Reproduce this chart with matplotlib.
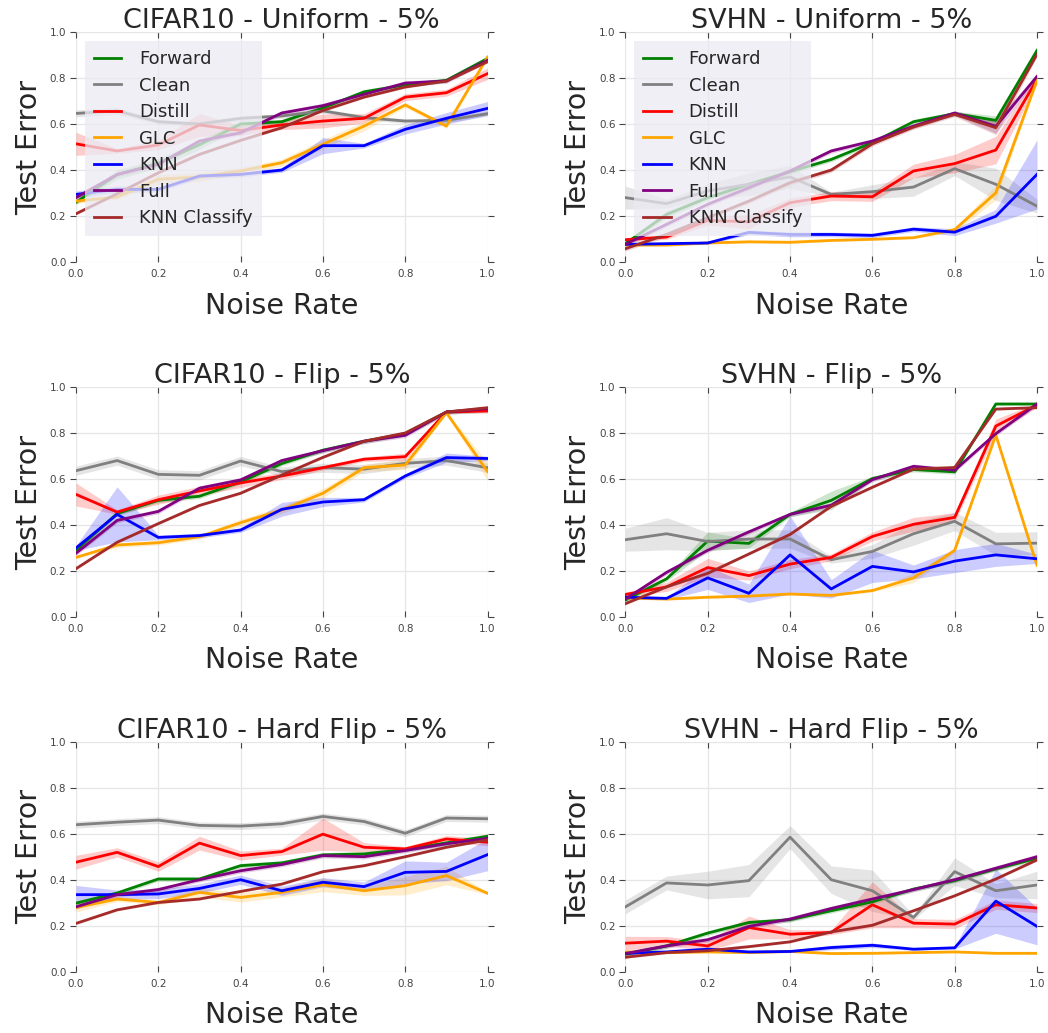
import numpy as np
import matplotlib
matplotlib.use('Agg')
import matplotlib.pyplot as plt

noise = [0.0, 0.1, 0.2, 0.3, 0.4, 0.5, 0.6, 0.7, 0.8, 0.9, 1.0]
methods = ['Forward', 'Clean', 'Distill', 'GLC', 'KNN', 'Full', 'KNN Classify']
colors = ['green', 'gray', 'red', 'orange', 'blue', 'purple', 'brown']
titles = ['CIFAR10 - Uniform - 5%', 'SVHN - Uniform - 5%',
          'CIFAR10 - Flip - 5%', 'SVHN - Flip - 5%',
          'CIFAR10 - Hard Flip - 5%', 'SVHN - Hard Flip - 5%']

# mean test error per method
cifar_uniform = {
    'Forward':      [0.26, 0.38, 0.43, 0.51, 0.60, 0.61, 0.67, 0.74, 0.77, 0.79, 0.885],
    'Clean':        [0.646, 0.657, 0.61, 0.60, 0.625, 0.635, 0.657, 0.628, 0.613, 0.616, 0.645],
    'Distill':      [0.514, 0.483, 0.509, 0.596, 0.572, 0.596, 0.613, 0.625, 0.717, 0.736, 0.819],
    'GLC':          [0.265, 0.283, 0.36, 0.37, 0.396, 0.432, 0.512, 0.591, 0.683, 0.591, 0.891],
    'KNN':          [0.294, 0.316, 0.316, 0.374, 0.381, 0.40, 0.506, 0.506, 0.577, 0.625, 0.668],
    'Full':         [0.28, 0.381, 0.425, 0.526, 0.562, 0.648, 0.68, 0.729, 0.778, 0.787, 0.877],
    'KNN Classify': [0.21, 0.297, 0.388, 0.468, 0.529, 0.584, 0.659, 0.717, 0.761, 0.787, 0.871],
}
svhn_uniform = {
    'Forward':      [0.08, 0.207, 0.28, 0.338, 0.393, 0.446, 0.519, 0.61, 0.645, 0.616, 0.92],
    'Clean':        [0.28, 0.254, 0.309, 0.338, 0.37, 0.294, 0.306, 0.326, 0.406, 0.338, 0.243],
    'Distill':      [0.097, 0.109, 0.181, 0.175, 0.258, 0.287, 0.284, 0.396, 0.428, 0.487, 0.794],
    'GLC':          [0.074, 0.074, 0.083, 0.088, 0.086, 0.094, 0.099, 0.106, 0.141, 0.301, 0.79],
    'KNN':          [0.077, 0.08, 0.083, 0.129, 0.12, 0.12, 0.116, 0.143, 0.13, 0.199, 0.381],
    'Full':         [0.077, 0.164, 0.251, 0.323, 0.396, 0.483, 0.526, 0.591, 0.648, 0.59, 0.807],
    'KNN Classify': [0.058, 0.12, 0.193, 0.265, 0.345, 0.40, 0.514, 0.587, 0.642, 0.584, 0.903],
}
cifar_flip = {
    'Forward':      [0.29, 0.45, 0.507, 0.525, 0.587, 0.667, 0.725, 0.764, 0.797, 0.891, 0.90],
    'Clean':        [0.636, 0.68, 0.62, 0.616, 0.678, 0.632, 0.649, 0.643, 0.668, 0.68, 0.649],
    'Distill':      [0.533, 0.456, 0.51, 0.548, 0.583, 0.613, 0.649, 0.686, 0.697, 0.891, 0.896],
    'GLC':          [0.259, 0.313, 0.323, 0.349, 0.41, 0.465, 0.538, 0.649, 0.661, 0.888, 0.632],
    'KNN':          [0.30, 0.446, 0.346, 0.354, 0.378, 0.468, 0.50, 0.51, 0.613, 0.693, 0.689],
    'Full':         [0.277, 0.42, 0.459, 0.56, 0.596, 0.68, 0.723, 0.764, 0.79, 0.891, 0.906],
    'KNN Classify': [0.21, 0.325, 0.406, 0.485, 0.538, 0.617, 0.694, 0.764, 0.80, 0.891, 0.91],
}
svhn_flip = {
    'Forward':      [0.074, 0.166, 0.33, 0.32, 0.446, 0.507, 0.602, 0.641, 0.631, 0.926, 0.926],
    'Clean':        [0.336, 0.362, 0.328, 0.339, 0.339, 0.249, 0.285, 0.362, 0.416, 0.318, 0.321],
    'Distill':      [0.098, 0.131, 0.215, 0.18, 0.23, 0.259, 0.35, 0.403, 0.433, 0.83, 0.922],
    'GLC':          [0.083, 0.078, 0.086, 0.091, 0.10, 0.094, 0.115, 0.17, 0.29, 0.791, 0.225],
    'KNN':          [0.086, 0.081, 0.17, 0.103, 0.27, 0.122, 0.22, 0.196, 0.243, 0.27, 0.253],
    'Full':         [0.078, 0.194, 0.29, 0.37, 0.446, 0.486, 0.597, 0.655, 0.638, 0.797, 0.926],
    'KNN Classify': [0.058, 0.131, 0.19, 0.274, 0.359, 0.481, 0.564, 0.643, 0.65, 0.904, 0.91],
}
cifar_hard = {
    'Forward':      [0.299, 0.343, 0.404, 0.404, 0.462, 0.474, 0.509, 0.513, 0.532, 0.561, 0.59],
    'Clean':        [0.64, 0.651, 0.66, 0.637, 0.634, 0.644, 0.676, 0.654, 0.603, 0.669, 0.666],
    'Distill':      [0.477, 0.52, 0.458, 0.56, 0.506, 0.523, 0.599, 0.542, 0.535, 0.578, 0.564],
    'GLC':          [0.28, 0.317, 0.302, 0.346, 0.324, 0.346, 0.379, 0.353, 0.375, 0.419, 0.342],
    'KNN':          [0.336, 0.336, 0.339, 0.363, 0.401, 0.353, 0.39, 0.371, 0.433, 0.437, 0.51],
    'Full':         [0.283, 0.336, 0.358, 0.401, 0.44, 0.467, 0.506, 0.501, 0.528, 0.557, 0.581],
    'KNN Classify': [0.211, 0.27, 0.302, 0.317, 0.35, 0.382, 0.436, 0.462, 0.501, 0.542, 0.574],
}
svhn_hard = {
    'Forward':      [0.077, 0.113, 0.169, 0.215, 0.227, 0.266, 0.305, 0.36, 0.397, 0.448, 0.494],
    'Clean':        [0.283, 0.387, 0.378, 0.397, 0.586, 0.401, 0.353, 0.237, 0.436, 0.353, 0.378],
    'Distill':      [0.125, 0.134, 0.113, 0.193, 0.164, 0.172, 0.292, 0.212, 0.208, 0.292, 0.278],
    'GLC':          [0.087, 0.084, 0.087, 0.084, 0.089, 0.08, 0.081, 0.084, 0.087, 0.081, 0.081],
    'KNN':          [0.081, 0.087, 0.099, 0.087, 0.089, 0.106, 0.116, 0.099, 0.105, 0.308, 0.198],
    'Full':         [0.08, 0.113, 0.14, 0.198, 0.23, 0.276, 0.317, 0.358, 0.401, 0.451, 0.501],
    'KNN Classify': [0.064, 0.084, 0.092, 0.11, 0.131, 0.174, 0.203, 0.266, 0.331, 0.404, 0.487],
}

# half-width of the shaded band (estimated)
cifar_uniform_sd = {
    'Forward':      [0.01, 0.02, 0.02, 0.02, 0.015, 0.01, 0.01, 0.01, 0.01, 0.01, 0.01],
    'Clean':        [0.015, 0.015, 0.01, 0.01, 0.01, 0.01, 0.01, 0.01, 0.01, 0.01, 0.01],
    'Distill':      [0.05, 0.01, 0.02, 0.05, 0.02, 0.02, 0.03, 0.02, 0.015, 0.015, 0.025],
    'GLC':          [0.01, 0.01, 0.02, 0.02, 0.015, 0.015, 0.02, 0.02, 0.01, 0.01, 0.01],
    'KNN':          [0.015, 0.015, 0.01, 0.01, 0.01, 0.01, 0.035, 0.01, 0.02, 0.025, 0.03],
    'Full':         [0.01, 0.01, 0.01, 0.01, 0.01, 0.01, 0.01, 0.01, 0.01, 0.01, 0.01],
    'KNN Classify': [0.005, 0.005, 0.005, 0.005, 0.005, 0.005, 0.005, 0.005, 0.005, 0.005, 0.005],
}
svhn_uniform_sd = {
    'Forward':      [0.01, 0.015, 0.01, 0.01, 0.01, 0.01, 0.01, 0.01, 0.01, 0.02, 0.01],
    'Clean':        [0.05, 0.02, 0.03, 0.05, 0.05, 0.01, 0.03, 0.04, 0.03, 0.07, 0.03],
    'Distill':      [0.01, 0.01, 0.02, 0.03, 0.02, 0.02, 0.02, 0.03, 0.04, 0.06, 0.02],
    'GLC':          [0.005, 0.005, 0.005, 0.005, 0.005, 0.005, 0.005, 0.005, 0.01, 0.03, 0.01],
    'KNN':          [0.005, 0.005, 0.005, 0.01, 0.01, 0.01, 0.01, 0.01, 0.015, 0.03, 0.15],
    'Full':         [0.01, 0.01, 0.01, 0.01, 0.01, 0.01, 0.01, 0.01, 0.01, 0.03, 0.01],
    'KNN Classify': [0.01, 0.01, 0.01, 0.01, 0.01, 0.01, 0.01, 0.01, 0.01, 0.03, 0.01],
}
cifar_flip_sd = {
    'Forward':      [0.01, 0.01, 0.01, 0.01, 0.01, 0.01, 0.01, 0.01, 0.01, 0.01, 0.01],
    'Clean':        [0.02, 0.02, 0.02, 0.02, 0.02, 0.02, 0.02, 0.02, 0.02, 0.02, 0.02],
    'Distill':      [0.05, 0.01, 0.02, 0.02, 0.02, 0.015, 0.01, 0.01, 0.015, 0.005, 0.01],
    'GLC':          [0.005, 0.01, 0.01, 0.01, 0.015, 0.015, 0.02, 0.015, 0.02, 0.005, 0.04],
    'KNN':          [0.01, 0.12, 0.01, 0.01, 0.01, 0.03, 0.02, 0.01, 0.01, 0.02, 0.01],
    'Full':         [0.01, 0.01, 0.01, 0.01, 0.01, 0.01, 0.01, 0.01, 0.01, 0.01, 0.01],
    'KNN Classify': [0.005, 0.005, 0.005, 0.005, 0.005, 0.005, 0.005, 0.005, 0.005, 0.005, 0.005],
}
svhn_flip_sd = {
    'Forward':      [0.01, 0.01, 0.04, 0.02, 0.01, 0.04, 0.01, 0.01, 0.01, 0.005, 0.005],
    'Clean':        [0.05, 0.07, 0.04, 0.04, 0.04, 0.015, 0.03, 0.05, 0.04, 0.05, 0.05],
    'Distill':      [0.01, 0.02, 0.04, 0.02, 0.02, 0.015, 0.02, 0.03, 0.02, 0.03, 0.01],
    'GLC':          [0.005, 0.005, 0.005, 0.005, 0.005, 0.005, 0.005, 0.02, 0.01, 0.005, 0.01],
    'KNN':          [0.01, 0.005, 0.05, 0.04, 0.17, 0.04, 0.07, 0.03, 0.05, 0.05, 0.02],
    'Full':         [0.01, 0.01, 0.01, 0.01, 0.01, 0.01, 0.01, 0.01, 0.01, 0.01, 0.01],
    'KNN Classify': [0.005, 0.005, 0.005, 0.005, 0.005, 0.005, 0.005, 0.005, 0.005, 0.005, 0.005],
}
cifar_hard_sd = {
    'Forward':      [0.01, 0.01, 0.01, 0.01, 0.01, 0.01, 0.01, 0.01, 0.01, 0.01, 0.01],
    'Clean':        [0.015, 0.015, 0.015, 0.015, 0.015, 0.015, 0.015, 0.015, 0.015, 0.015, 0.015],
    'Distill':      [0.03, 0.02, 0.02, 0.03, 0.02, 0.015, 0.07, 0.02, 0.01, 0.015, 0.015],
    'GLC':          [0.02, 0.01, 0.01, 0.02, 0.02, 0.02, 0.03, 0.02, 0.04, 0.04, 0.005],
    'KNN':          [0.04, 0.02, 0.02, 0.02, 0.02, 0.02, 0.02, 0.02, 0.05, 0.04, 0.07],
    'Full':         [0.01, 0.01, 0.01, 0.01, 0.01, 0.01, 0.01, 0.01, 0.01, 0.01, 0.01],
    'KNN Classify': [0.005, 0.005, 0.005, 0.005, 0.005, 0.005, 0.005, 0.005, 0.005, 0.005, 0.005],
}
svhn_hard_sd = {
    'Forward':      [0.01, 0.01, 0.01, 0.01, 0.01, 0.01, 0.01, 0.01, 0.01, 0.01, 0.01],
    'Clean':        [0.03, 0.03, 0.06, 0.07, 0.05, 0.06, 0.09, 0.01, 0.06, 0.03, 0.06],
    'Distill':      [0.03, 0.02, 0.02, 0.05, 0.02, 0.01, 0.1, 0.02, 0.02, 0.02, 0.02],
    'GLC':          [0.003, 0.003, 0.003, 0.003, 0.003, 0.003, 0.003, 0.003, 0.003, 0.003, 0.003],
    'KNN':          [0.005, 0.005, 0.01, 0.005, 0.005, 0.01, 0.01, 0.005, 0.005, 0.14, 0.08],
    'Full':         [0.01, 0.01, 0.01, 0.01, 0.01, 0.01, 0.01, 0.01, 0.01, 0.01, 0.01],
    'KNN Classify': [0.005, 0.005, 0.005, 0.005, 0.005, 0.005, 0.005, 0.005, 0.005, 0.005, 0.005],
}

panels = [(cifar_uniform, cifar_uniform_sd), (svhn_uniform, svhn_uniform_sd),
          (cifar_flip, cifar_flip_sd), (svhn_flip, svhn_flip_sd),
          (cifar_hard, cifar_hard_sd), (svhn_hard, svhn_hard_sd)]

plt.rcParams['font.family'] = 'DejaVu Sans'
fig, axes = plt.subplots(3, 2, figsize=(10.48, 10.33), dpi=100)
fig.subplots_adjust(left=0.0725, right=0.9895, top=0.969, bottom=0.0591,
                    wspace=0.335, hspace=0.543)

x = np.array(noise)
for i, ax in enumerate(axes.flat):
    means, sds = panels[i]
    for name, c in zip(methods, colors):
        m = np.array(means[name])
        s = np.array(sds[name])
        ax.fill_between(x, m - s, m + s, color=c, alpha=0.2, lw=0)
        ax.plot(x, m, color=c, lw=2, label=name)
    ax.set_xlim(0, 1)
    ax.set_ylim(0, 1)
    ticks = [0.0, 0.2, 0.4, 0.6, 0.8, 1.0]
    ax.set_xticks(ticks)
    ax.set_yticks(ticks)
    ax.set_facecolor('white')
    for sp in ax.spines.values():
        sp.set_visible(False)
    ax.grid(True, color='#e6e6e6', lw=0.9)
    ax.set_axisbelow(True)
    ax.tick_params(axis='x', direction='in', top=True, bottom=True, length=4,
                   color='#444444', labelsize=7.5, labelcolor='#444444', pad=5)
    ax.tick_params(axis='y', direction='out', left=True, right=True, length=4,
                   color='#444444', labelsize=7.5, labelcolor='#444444', pad=3)
    ax.set_title(titles[i], fontsize=19.5, color='#262626', pad=3)
    ax.set_xlabel('Noise Rate', fontsize=20.5, color='#262626', labelpad=9)
    ax.set_ylabel('Test Error', fontsize=20.5, color='#262626', labelpad=5)
    if i < 2:
        leg = ax.legend(loc='upper left', fontsize=13, labelspacing=0.47,
                        handlelength=1.5, handletextpad=1.0, borderpad=0.5,
                        facecolor='#eaeaf2', framealpha=0.75, edgecolor='none',
                        fancybox=False)
        for t in leg.get_texts():
            t.set_color('#262626')

plt.savefig('out.png', dpi=100)
